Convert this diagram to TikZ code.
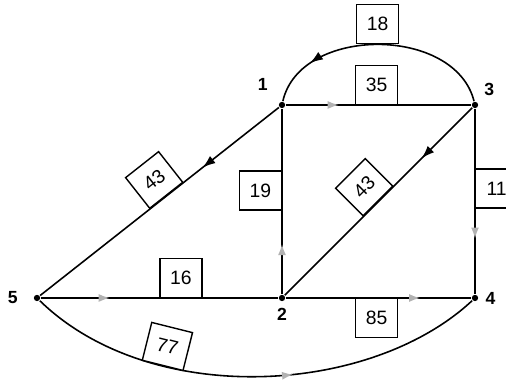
\documentclass[tikz,border=0pt]{standalone}
\usepackage{fontspec}
\setmainfont{Liberation Sans}
\usetikzlibrary{arrows.meta,decorations.markings}

\begin{document}
\begin{tikzpicture}[font=\fontsize{11}{13}\selectfont,line width=.9pt,
vtx/.style={circle,fill,inner sep=0pt,minimum size=3.6pt,label distance=2pt},
wbox/.style={draw,fill=white,minimum width=.84cm,minimum height=.78cm,inner sep=1pt,line width=.8pt},
arrat/.style={postaction={decorate,decoration={markings,mark=at position #1 with {\arrow{Latex[length=2.6mm,width=1.8mm]}}}}},
garrat/.style={postaction={decorate,decoration={markings,mark=at position #1 with {\arrow[gray!60]{Latex[length=2.2mm,width=1.6mm]}}}}}]
\useasboundingbox (0,0) rectangle (10.12,7.66);
\node[vtx,label={[font=\bfseries,label distance=4pt]above left:1}] (n1) at (5.64,5.56) {};
\node[vtx,label={[font=\bfseries]below:2}] (n2) at (5.64,1.70) {};
\node[vtx,label={[font=\bfseries]above right:3}] (n3) at (9.50,5.56) {};
\node[vtx,label={[font=\bfseries]right:4}] (n4) at (9.50,1.70) {};
\node[vtx,label={[font=\bfseries,label distance=5pt]left:5}] (n5) at (0.74,1.70) {};
% arcs
\draw[arrat=.8] (n3) .. controls (9.1,7.15) and (6.0,7.15) .. (n1) node[wbox,pos=.5,anchor=south] {18};
\draw[garrat=.285] (n1) -- (n3) node[wbox,pos=.49,anchor=south] {35};
\draw[arrat=.32] (n1) -- (n5) node[wbox,pos=.47,sloped,anchor=south] {43};
\draw[garrat=.27] (n2) -- (n1) node[wbox,pos=.56,anchor=east] {19};
\draw[arrat=.27] (n3) -- (n2) node[wbox,pos=.5,sloped,anchor=south] {43};
\draw[garrat=.7] (n3) -- (n4) node[wbox,pos=.43,anchor=west] {11};
\draw[garrat=.29] (n5) -- (n2) node[wbox,pos=.59,anchor=south] {16};
\draw[garrat=.725] (n2) -- (n4) node[wbox,pos=.49,anchor=north] {85};
\draw[garrat=.58] (n5) .. controls (3.0,-0.5) and (7.4,-0.26) .. (n4) node[wbox,pos=.3,sloped,anchor=south] {77};
\end{tikzpicture}
\end{document}
